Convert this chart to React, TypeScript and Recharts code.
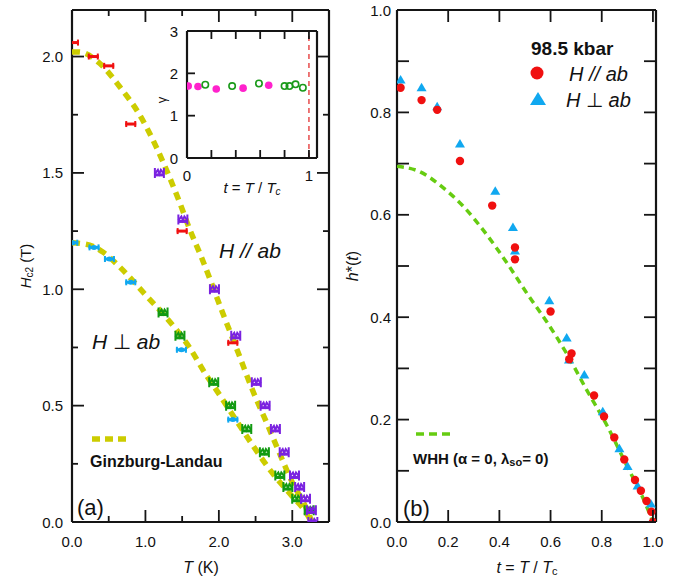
import React from "react";
import { ScatterChart, Scatter, XAxis, YAxis, ReferenceLine } from "recharts";

const FONT = '"Liberation Sans", Arial, Helvetica, sans-serif';
const INK = "#151515";

// ---- panel (a): Hc2 vs T ----
const redT = [0.02, 0.29, 0.5, 0.8, 1.5, 2.19];
const redH = [2.06, 2.0, 1.96, 1.71, 1.25, 0.77];
const purpleT = [1.19, 1.51, 1.94, 2.23, 2.51, 2.63, 2.77, 2.89, 3.03, 3.1, 3.18, 3.26, 3.28];
const purpleH = [1.5, 1.3, 1.0, 0.8, 0.6, 0.5, 0.4, 0.3, 0.2, 0.15, 0.1, 0.05, 0.0];
const blueT = [0.01, 0.3, 0.51, 0.8, 1.49, 2.19];
const blueH = [1.2, 1.18, 1.13, 1.03, 0.74, 0.44];
const greenT = [1.24, 1.47, 1.93, 2.16, 2.38, 2.62, 2.83, 2.94, 3.06, 3.23];
const greenH = [0.9, 0.8, 0.6, 0.5, 0.4, 0.3, 0.2, 0.15, 0.1, 0.05];

const glUpperT = [0, 0.09, 0.38, 0.65, 0.92, 1.15, 1.33, 1.47, 1.6, 1.76, 2.05, 2.26, 2.48, 2.66, 2.82, 3.0, 3.18, 3.27];
const glUpperH = [2.02, 2.02, 1.97, 1.87, 1.75, 1.61, 1.48, 1.37, 1.26, 1.14, 0.9, 0.73, 0.55, 0.42, 0.3, 0.17, 0.066, 0];
const glLowerT = [0, 0.24, 0.42, 0.7, 0.99, 1.28, 1.6, 1.83, 1.96, 2.23, 2.46, 2.73, 3.0, 3.18, 3.26];
const glLowerH = [1.2, 1.19, 1.16, 1.08, 0.98, 0.88, 0.75, 0.63, 0.57, 0.44, 0.33, 0.21, 0.11, 0.044, 0];

const aDomX: [number, number] = [0, 3.5];
const aDomY: [number, number] = [0, 2.2];
const aTicksX = [0, 0.5, 1, 1.5, 2, 2.5, 3, 3.5];
const aMajorX = [0, 1, 2, 3];
const aTicksY = [0, 0.25, 0.5, 0.75, 1, 1.25, 1.5, 1.75, 2];
const aMajorY = [0, 0.5, 1, 1.5, 2];

// ---- inset: gamma vs t ----
const gMagT = [0.01, 0.09, 0.24, 0.46, 0.67];
const gMagV = [1.7, 1.69, 1.63, 1.65, 1.72];
const gOpenT = [0.15, 0.37, 0.59, 0.8, 0.84, 0.89, 0.95];
const gOpenV = [1.73, 1.7, 1.76, 1.7, 1.7, 1.74, 1.66];
const insetTicksX = [0, 0.2, 0.4, 0.6, 0.8, 1];
const insetMajorX = [0, 1];
const insetTicksY = [0, 1, 2, 3];

// ---- panel (b): h*(t) ----
const hParT = [0.014, 0.096, 0.157, 0.246, 0.372, 0.461, 0.461, 0.6, 0.673, 0.682, 0.77, 0.809, 0.849, 0.888, 0.93, 0.953, 0.975, 0.994, 1.0];
const hParV = [0.848, 0.824, 0.805, 0.705, 0.618, 0.536, 0.513, 0.411, 0.318, 0.329, 0.247, 0.206, 0.165, 0.122, 0.082, 0.061, 0.041, 0.02, 0.0];
const hPerpT = [0.014, 0.096, 0.157, 0.246, 0.384, 0.453, 0.461, 0.595, 0.663, 0.672, 0.732, 0.804, 0.869, 0.901, 0.94, 0.992, 1.0];
const hPerpV = [0.863, 0.848, 0.811, 0.738, 0.646, 0.575, 0.529, 0.432, 0.359, 0.316, 0.287, 0.215, 0.143, 0.108, 0.07, 0.035, 0.0];
const whhT = [0, 0.09, 0.18, 0.26, 0.337, 0.435, 0.507, 0.585, 0.663, 0.741, 0.82, 0.897, 0.962, 1.0];
const whhV = [0.695, 0.684, 0.653, 0.616, 0.57, 0.502, 0.447, 0.391, 0.329, 0.258, 0.189, 0.111, 0.046, 0];

const bDomX: [number, number] = [0, 1.012];
const bDomY: [number, number] = [0, 1.0];
const bTicksX = [0, 0.2, 0.4, 0.6, 0.8, 1.0];
const bTicksY = [0, 0.1, 0.2, 0.3, 0.4, 0.5, 0.6, 0.7, 0.8, 0.9, 1.0];
const bMajorY = [0, 0.2, 0.4, 0.6, 0.8, 1.0];

const RED = "#f01010";
const BLUE = "#10a8f0";
const PURPLE = "#7a22e0";
const GREEN = "#129a12";
const OLIVE = "#cccc00";
const WHHGREEN = "#66cc11";
const MAGENTA = "#ff22cc";

const zip = (xs: number[], ys: number[]) => xs.map((x, i) => ({ x, y: ys[i] }));

type TickOpts = {
  side: "bottom" | "top" | "left" | "right";
  majors: number[];
  labels?: boolean;
  digits?: number;
  major?: number;
  minor?: number;
  gap?: number;
  fontSize?: number;
};

// inward tick line + outside label, drawn by the axis itself
function makeTick(o: TickOpts) {
  const { side, majors, labels = true, digits = 1, major = 12, minor = 6, gap = 10, fontSize = 15 } = o;
  return (props: any) => {
    const { x, y, payload } = props;
    const v = payload.value as number;
    const isMaj = majors.some((m) => Math.abs(m - v) < 1e-6);
    const len = isMaj ? major : minor;
    const ls = { stroke: INK, strokeWidth: 1.8 };
    let line;
    if (side === "bottom") line = <line x1={x} x2={x} y1={y} y2={y - len} {...ls} />;
    else if (side === "top") line = <line x1={x} x2={x} y1={y} y2={y + len} {...ls} />;
    else if (side === "left") line = <line x1={x} x2={x + len} y1={y} y2={y} {...ls} />;
    else line = <line x1={x} x2={x - len} y1={y} y2={y} {...ls} />;
    let label = null;
    if (labels && isMaj) {
      const txt = v.toFixed(digits);
      const common = { fill: "#111", stroke: "none", fontSize, fontFamily: FONT };
      if (side === "bottom")
        label = (
          <text x={x} y={y + gap} textAnchor="middle" dominantBaseline="central" {...common}>
            {txt}
          </text>
        );
      else if (side === "left")
        label = (
          <text x={x - gap} y={y} textAnchor="end" dominantBaseline="central" {...common}>
            {txt}
          </text>
        );
    }
    return (
      <g>
        {line}
        {label}
      </g>
    );
  };
}

const axisLine = { stroke: INK, strokeWidth: 2.2 };
const Nothing = () => <g />;
const ax = { type: "number" as const, interval: 0 as const, tickSize: 0, tickMargin: 0, tickLine: false, allowDataOverflow: true };

// marker glyphs
const HBar = (color: string, blob?: boolean) => (p: any) => {
  const { cx, cy } = p;
  if (cx == null || cy == null) return <g />;
  return (
    <g fill={color} stroke="none">
      <rect x={cx - 5.5} y={cy - 1.5} width={11} height={3} />
      <rect x={cx - 5.5} y={cy - 3} width={2} height={6} />
      <rect x={cx + 3.5} y={cy - 3} width={2} height={6} />
      {blob && <ellipse cx={cx} cy={cy} rx={3} ry={2.5} />}
    </g>
  );
};

const Crown = (color: string) => (p: any) => {
  const { cx, cy } = p;
  if (cx == null || cy == null) return <g />;
  return (
    <g fill="none" stroke={color} strokeWidth={2}>
      <path d={`M${cx - 4.5} ${cy + 5} L${cx - 4.5} ${cy - 5} M${cx + 4.5} ${cy + 5} L${cx + 4.5} ${cy - 5}`} />
      <path d={`M${cx - 4.5} ${cy + 1} L${cx - 1.5} ${cy - 3} L${cx} ${cy + 1} L${cx + 1.5} ${cy - 3} L${cx + 4.5} ${cy + 1}`} />
      <path d={`M${cx - 4.5} ${cy + 2} L${cx + 4.5} ${cy + 2}`} strokeWidth={3} />
    </g>
  );
};

const Dot = (color: string, r: number) => (p: any) =>
  p.cx == null ? <g /> : <circle cx={p.cx} cy={p.cy} r={r} fill={color} />;

const OpenDot = (color: string, r: number) => (p: any) =>
  p.cx == null ? <g /> : <circle cx={p.cx} cy={p.cy} r={r} fill="none" stroke={color} strokeWidth={1.6} />;

const Tri = (color: string, s: number) => (p: any) => {
  const { cx, cy } = p;
  if (cx == null) return <g />;
  const h = s * 0.85;
  return <path d={`M${cx} ${cy - h * 0.6} L${cx + s / 2} ${cy + h * 0.4} L${cx - s / 2} ${cy + h * 0.4} Z`} fill={color} />;
};

function PanelA() {
  return (
    <ScatterChart width={345} height={584} margin={{ top: 9, right: 15, bottom: 0, left: 0 }}>
      <XAxis xAxisId="aB" dataKey="x" orientation="bottom" domain={aDomX} ticks={aTicksX} height={62} {...ax} axisLine={axisLine}
        tick={makeTick({ side: "bottom", majors: aMajorX, gap: 19 })} />
      <XAxis xAxisId="aT" dataKey="x" orientation="top" domain={aDomX} ticks={aTicksX} height={1} {...ax} axisLine={axisLine}
        tick={makeTick({ side: "top", majors: aMajorX, labels: false })} />
      <YAxis yAxisId="aL" dataKey="y" orientation="left" domain={aDomY} ticks={aTicksY} width={72} {...ax} axisLine={axisLine}
        tick={makeTick({ side: "left", majors: aMajorY, gap: 9 })} />
      <YAxis yAxisId="aR" dataKey="y" orientation="right" domain={aDomY} ticks={aTicksY} width={1} {...ax} axisLine={axisLine}
        tick={makeTick({ side: "right", majors: aMajorY, labels: false })} />
      <Scatter xAxisId="aT" yAxisId="aR" data={zip(redT, redH)} shape={Nothing} isAnimationActive={false} />
      <Scatter xAxisId="aB" yAxisId="aL" data={zip(glUpperT, glUpperH)} shape={Nothing} line={{ stroke: OLIVE, strokeWidth: 5.5, strokeDasharray: "8 6" }} lineJointType="monotoneX" isAnimationActive={false} />
      <Scatter xAxisId="aB" yAxisId="aL" data={zip(glLowerT, glLowerH)} shape={Nothing} line={{ stroke: OLIVE, strokeWidth: 5.5, strokeDasharray: "8 6" }} lineJointType="monotoneX" isAnimationActive={false} />
      <Scatter xAxisId="aB" yAxisId="aL" data={zip(blueT, blueH)} shape={HBar(BLUE, true)} isAnimationActive={false} />
      <Scatter xAxisId="aB" yAxisId="aL" data={zip(greenT, greenH)} shape={Crown(GREEN)} isAnimationActive={false} />
      <Scatter xAxisId="aB" yAxisId="aL" data={zip(redT, redH)} shape={HBar(RED)} isAnimationActive={false} />
      <Scatter xAxisId="aB" yAxisId="aL" data={zip(purpleT, purpleH)} shape={Crown(PURPLE)} isAnimationActive={false} />
    </ScatterChart>
  );
}

function Inset() {
  return (
    <ScatterChart width={180} height={190} margin={{ top: 10, right: 12, bottom: 0, left: 0 }}>
      <XAxis xAxisId="iB" dataKey="x" orientation="bottom" domain={[0, 1.066]} ticks={insetTicksX} height={52} {...ax} axisLine={axisLine}
        tick={makeTick({ side: "bottom", majors: insetMajorX, digits: 0, major: 8, minor: 8, gap: 17 })} />
      <XAxis xAxisId="iT" dataKey="x" orientation="top" domain={[0, 1.066]} ticks={insetTicksX} height={1} {...ax} axisLine={axisLine}
        tick={makeTick({ side: "top", majors: insetTicksX, labels: false, major: 8 })} />
      <YAxis yAxisId="iL" dataKey="y" orientation="left" domain={[0, 3]} ticks={insetTicksY} width={37} {...ax} axisLine={axisLine}
        tick={makeTick({ side: "left", majors: insetTicksY, digits: 0, major: 8, gap: 9 })} />
      <YAxis yAxisId="iR" dataKey="y" orientation="right" domain={[0, 3]} ticks={insetTicksY} width={1} {...ax} axisLine={axisLine} tick={false} />
      <Scatter xAxisId="iT" yAxisId="iR" data={zip(gMagT, gMagV)} shape={Nothing} isAnimationActive={false} />
      <ReferenceLine xAxisId="iB" yAxisId="iL" x={1} stroke="#e02020" strokeWidth={1.2} strokeDasharray="5 4" />
      <Scatter xAxisId="iB" yAxisId="iL" data={zip(gMagT, gMagV)} shape={Dot(MAGENTA, 3.8)} isAnimationActive={false} />
      <Scatter xAxisId="iB" yAxisId="iL" data={zip(gOpenT, gOpenV)} shape={OpenDot("#1a9a1a", 3.2)} isAnimationActive={false} />
    </ScatterChart>
  );
}

function PanelB() {
  return (
    <ScatterChart width={345} height={584} margin={{ top: 9, right: 33, bottom: 0, left: 0 }}>
      <XAxis xAxisId="bB" dataKey="x" orientation="bottom" domain={bDomX} ticks={bTicksX} height={62} {...ax} axisLine={axisLine}
        tick={makeTick({ side: "bottom", majors: bTicksX, gap: 19 })} />
      <XAxis xAxisId="bT" dataKey="x" orientation="top" domain={bDomX} ticks={bTicksX} height={1} {...ax} axisLine={axisLine}
        tick={makeTick({ side: "top", majors: bTicksX, labels: false })} />
      <YAxis yAxisId="bL" dataKey="y" orientation="left" domain={bDomY} ticks={bTicksY} width={52} {...ax} axisLine={axisLine}
        tick={makeTick({ side: "left", majors: bMajorY, minor: 12, gap: 6 })} />
      <YAxis yAxisId="bR" dataKey="y" orientation="right" domain={bDomY} ticks={bTicksY} width={1} {...ax} axisLine={axisLine}
        tick={makeTick({ side: "right", majors: bMajorY, labels: false, minor: 12 })} />
      <Scatter xAxisId="bT" yAxisId="bR" data={zip(hParT, hParV)} shape={Nothing} isAnimationActive={false} />
      <Scatter xAxisId="bB" yAxisId="bL" data={zip(whhT, whhV)} shape={Nothing} line={{ stroke: WHHGREEN, strokeWidth: 3.5, strokeDasharray: "7 5" }} lineJointType="monotoneX" isAnimationActive={false} />
      <Scatter xAxisId="bB" yAxisId="bL" data={zip(hPerpT, hPerpV)} shape={Tri(BLUE, 10)} isAnimationActive={false} />
      <Scatter xAxisId="bB" yAxisId="bL" data={zip(hParT, hParV)} shape={Dot(RED, 4.2)} isAnimationActive={false} />
    </ScatterChart>
  );
}

function Overlay() {
  const t = { fontFamily: FONT, fill: "#111" } as const;
  return (
    <svg width={690} height={584} style={{ position: "absolute", left: 0, top: 0, pointerEvents: "none" }}>
      {/* panel (a) */}
      <text x={219} y={250} fontSize={21} fontStyle="italic" dominantBaseline="central" {...t}>H // ab</text>
      <text x={92} y={341} fontSize={21} dominantBaseline="central" {...t}>
        <tspan fontStyle="italic">H</tspan> ⊥ <tspan fontStyle="italic">ab</tspan>
      </text>
      <line x1={92} x2={126} y1={439} y2={439} stroke={OLIVE} strokeWidth={5.5} strokeDasharray="8 5" />
      <text x={90} y={461} fontSize={16} fontWeight="bold" dominantBaseline="central" {...t}>Ginzburg-Landau</text>
      <text x={77} y={507} fontSize={22} dominantBaseline="central" {...t}>(a)</text>
      <text x={201} y={567} fontSize={16} textAnchor="middle" dominantBaseline="central" {...t}>
        <tspan fontStyle="italic">T</tspan> (K)
      </text>
      <text transform="translate(25,266) rotate(-90)" fontSize={15} textAnchor="middle" dominantBaseline="central" {...t}>
        <tspan fontStyle="italic">H</tspan>
        <tspan fontSize={10} dy={4}>c2</tspan>
        <tspan dy={-4}> (T)</tspan>
      </text>
      {/* inset */}
      <text x={252} y={187} fontSize={15} textAnchor="middle" dominantBaseline="central" {...t}>
        <tspan fontStyle="italic">t</tspan> = <tspan fontStyle="italic">T</tspan> / <tspan fontStyle="italic">T</tspan>
        <tspan fontSize={10} fontStyle="italic" dy={4}>c</tspan>
      </text>
      <text transform="translate(161,100) rotate(-90)" fontSize={13} textAnchor="middle" dominantBaseline="central" {...t}>γ</text>
      {/* panel (b) */}
      <text x={531} y={48} fontSize={19} fontWeight="bold" dominantBaseline="central" {...t}>98.5 kbar</text>
      <circle cx={537} cy={73} r={6.5} fill={RED} />
      <text x={569} y={74} fontSize={20} fontStyle="italic" dominantBaseline="central" {...t}>H // ab</text>
      <path d="M538 92 L546 105 L530 105 Z" fill={BLUE} />
      <text x={566} y={100} fontSize={20} dominantBaseline="central" {...t}>
        <tspan fontStyle="italic">H</tspan> ⊥ <tspan fontStyle="italic">ab</tspan>
      </text>
      <line x1={416} x2={452} y1={434} y2={434} stroke={WHHGREEN} strokeWidth={3.5} strokeDasharray="8 5" />
      <text x={413} y={458} fontSize={15} fontWeight="bold" dominantBaseline="central" {...t}>
        WHH (α = 0, λ<tspan fontSize={11} dy={4}>so</tspan><tspan dy={-4}>= 0)</tspan>
      </text>
      <text x={403} y={508} fontSize={22} dominantBaseline="central" {...t}>(b)</text>
      <text x={527} y={567} fontSize={16} textAnchor="middle" dominantBaseline="central" {...t}>
        <tspan fontStyle="italic">t</tspan> = <tspan fontStyle="italic">T</tspan> / <tspan fontStyle="italic">T</tspan>
        <tspan fontSize={11} dy={4}>c</tspan>
      </text>
      <text transform="translate(352,266) rotate(-90)" fontSize={16} textAnchor="middle" dominantBaseline="central" {...t}>
        <tspan fontStyle="italic">h</tspan>*(<tspan fontStyle="italic">t</tspan>)
      </text>
    </svg>
  );
}

export default function App() {
  return (
    <div style={{ position: "absolute", left: 0, top: 0, width: 690, height: 584, background: "#fff", fontFamily: FONT }}>
      <div style={{ position: "absolute", left: 0, top: 0 }}>
        <PanelA />
      </div>
      <div style={{ position: "absolute", left: 345, top: 0 }}>
        <PanelB />
      </div>
      <div style={{ position: "absolute", left: 150, top: 20 }}>
        <Inset />
      </div>
      <Overlay />
    </div>
  );
}
